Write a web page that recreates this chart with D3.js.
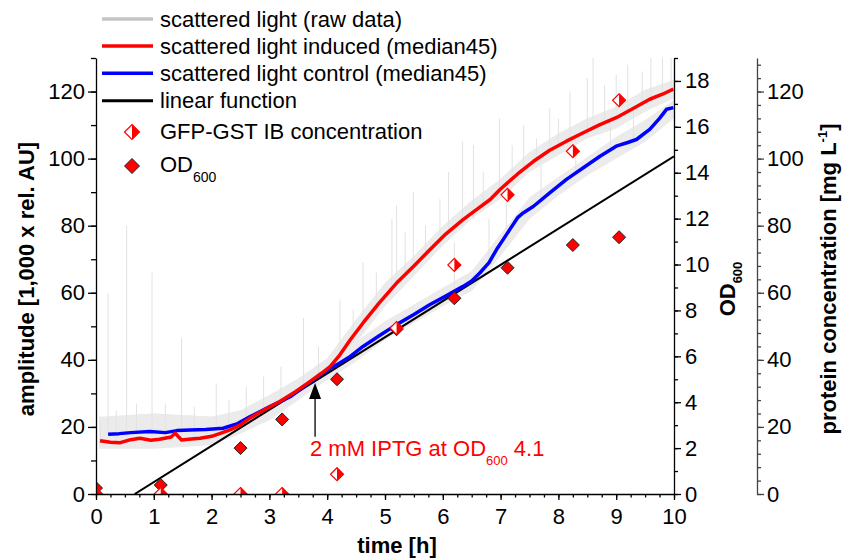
<!DOCTYPE html>
<html>
<head>
<meta charset="utf-8">
<script src="https://cdn.jsdelivr.net/npm/d3@7"></script>
<style>
  body { margin: 0; background: #fff; }
  text { font-family: Arial, "Liberation Sans", sans-serif; }
</style>
</head>
<body>
<div id="chart"></div>
<script>
// values: [time h, amplitude]
const redMedian = [[0.07,15.9],[0.25,15.4],[0.42,15.3],[0.6,16.2],[0.76,16.6],[0.95,16.0],[1.1,16.3],[1.3,17.0],[1.37,18.1],[1.48,16.1],[1.65,16.4],[1.8,16.6],[2.0,17.2],[2.15,18.1],[2.32,19.1],[2.5,20.6],[2.66,22.6],[2.9,25.0],[3.18,27.6],[3.45,30.5],[3.7,33.5],[3.9,36],[4.05,38],[4.22,41.5],[4.4,46],[4.62,51],[4.9,57],[5.2,62.9],[5.5,68],[5.78,72.9],[6.05,77.5],[6.35,81.8],[6.6,85],[6.82,87.8],[6.99,90.8],[7.3,95.5],[7.57,99.2],[7.85,102.5],[8.14,105.2],[8.43,107.7],[8.7,110],[9.0,112.2],[9.3,115],[9.58,117.7],[9.8,119.2],[9.99,120.7]];
const blueMedian = [[0.21,17.8],[0.4,18.0],[0.6,18.3],[0.93,18.6],[1.2,18.3],[1.4,18.9],[1.63,19.1],[1.9,19.2],[2.2,19.6],[2.45,21],[2.66,23],[3.0,26],[3.36,29],[3.7,33.3],[4.05,37.5],[4.16,38.5],[4.4,41],[4.62,44],[4.9,47.2],[5.2,50.5],[5.5,53.5],[5.78,56.5],[6.05,59],[6.35,61.9],[6.5,63.5],[6.64,65.9],[6.8,69],[6.93,72.9],[7.05,76],[7.16,78.9],[7.3,82.5],[7.39,83.8],[7.57,85.8],[7.85,89.8],[8.14,93.8],[8.45,97.5],[8.72,100.7],[9.0,103.7],[9.2,104.8],[9.35,105.7],[9.58,108.7],[9.75,112],[9.87,114.7],[9.99,115.2]];
// raw data envelope [t, low, high] and single spikes [t, base, peak]
const rawBandRed = [[0.05,13.5,23],[1,13.5,24],[2,14.5,23],[2.5,18,25],[3,22,29.5],[3.5,28,34.5],[4,34.5,40.5],[4.5,45,52],[5,56,63],[5.5,65,71],[6,74,80],[6.5,82,87.5],[7,88,94],[7.5,96,102],[8,101,107.5],[8.5,106,112],[9,109,115.5],[9.5,114,120.5],[10,118,123.5]];
const rawBandBlue = [[0.2,15,23],[1,15,24],[2,16,23],[2.5,18.5,24.5],[3,23,29],[3.5,28,33.5],[4,34,39.5],[4.5,39.5,45.5],[5,46,51.5],[5.5,51,56.5],[6,56,61.5],[6.5,60.5,66.5],[7,71,77.5],[7.5,82,88.5],[8,89,94.5],[8.5,95,100.5],[9,100,106.5],[9.5,105,111.5],[10,112,117.5]];
const rawSpikes = [[0.08,16,22],[0.21,18,60],[0.35,16,25],[0.53,17,80],[0.7,16,27],[0.97,17,66],[1.2,17,27],[1.48,18,46.5],[1.7,17,26],[2.08,18,33],[2.3,19,28],[2.6,22,32],[2.9,25,35],[3.2,28,38],[3.59,32,52.5],[3.85,35,44],[4.22,40,58],[4.45,45,55],[4.62,48,69],[4.85,55,66],[5.12,60,82],[5.2,62,86],[5.35,64,78],[5.49,66,90],[5.7,70,80],[5.95,74,88],[6.1,76,96],[6.2,60,75],[6.34,80,105],[6.53,82,104],[6.7,85,96],[6.8,68,82],[6.98,90,112],[7.1,77,90],[7.2,93,104],[7.4,97,110],[7.62,100,106],[7.7,87,98],[7.85,102,115],[8.0,103,112],[8.2,105,120],[8.3,95,104],[8.5,107,124],[8.6,108,130],[8.8,110,122],[8.9,102,110],[9.0,112,125],[9.2,114,128],[9.3,105,114],[9.45,116,126],[9.6,117,130],[9.8,119,130],[9.95,120,130]];
const linearFit = [[0.67,0],[10,100.7]];
// sample times, OD600 and GFP-GST IB concentration [mg/L]
const sampleTime = [0, 1.12, 2.5, 3.22, 4.17, 5.2, 6.2, 7.12, 8.25, 9.05];
const od600 = [0.26, 0.39, 2.0, 3.25, 5.0, 7.18, 8.53, 9.86, 10.85, 11.19];
const gfpConc = [0, 0, 0, 0, 5.9, 49.5, 68.3, 89.2, 102.2, 117.4];
const xTicks = d3.range(0, 11, 1);
const ampTicks = d3.range(0, 121, 20);
const odTicks = d3.range(0, 19, 2);
const protTicks = d3.range(0, 121, 20);
const iptgTime = 3.79;

const W = 850, H = 558;
const svg = d3.select("#chart").append("svg")
    .attr("width", W).attr("height", H);

const x = d3.scaleLinear().domain([0, 10]).range([96, 674]);
const y = d3.scaleLinear().domain([0, 130]).range([494, 58]);
const yOD = d3.scaleLinear().domain([0, 19]).range([494, 58]);
const yP = d3.scaleLinear().domain([0, 130]).range([494, 58]);

svg.append("clipPath").attr("id", "plot")
  .append("rect").attr("x", 96).attr("y", 58).attr("width", 578).attr("height", 436);

const plot = svg.append("g").attr("clip-path", "url(#plot)");

// raw scattered light
const band = d3.area().x(d => x(d[0])).y0(d => y(d[1])).y1(d => y(d[2]));
[rawBandRed, rawBandBlue].forEach(b => {
  plot.append("path").attr("d", band(b)).attr("fill", "#ebebeb");
});
plot.selectAll("line.spike").data(rawSpikes).enter().append("line")
    .attr("class", "spike")
    .attr("x1", d => x(d[0])).attr("x2", d => x(d[0]))
    .attr("y1", d => y(d[1])).attr("y2", d => y(d[2]))
    .attr("stroke", "#e2e2e2").attr("stroke-width", 1);

const line = d3.line().x(d => x(d[0])).y(d => y(d[1]));
plot.append("path").attr("d", line(linearFit))
    .attr("fill", "none").attr("stroke", "#000").attr("stroke-width", 2);
plot.append("path").attr("d", line(blueMedian))
    .attr("fill", "none").attr("stroke", "#0000ff").attr("stroke-width", 3.5).attr("stroke-linejoin", "round");
plot.append("path").attr("d", line(redMedian))
    .attr("fill", "none").attr("stroke", "#ff0000").attr("stroke-width", 3.5).attr("stroke-linejoin", "round");

// markers
function diamond(cx, cy, r) {
  return `M${cx},${cy - r}L${cx + r},${cy}L${cx},${cy + r}L${cx - r},${cy}Z`;
}
function halfDiamond(cx, cy, r) {
  return `M${cx},${cy - r}L${cx + r},${cy}L${cx},${cy + r}Z`;
}
function drawOD(g, cx, cy, r) {
  g.append("path").attr("d", diamond(cx, cy, r))
    .attr("fill", "#ff0000").attr("stroke", "#222").attr("stroke-width", 1);
}
function drawGFP(g, cx, cy, r) {
  g.append("path").attr("d", diamond(cx, cy, r))
    .attr("fill", "#fff").attr("stroke", "#ff0000").attr("stroke-width", 1.2);
  g.append("path").attr("d", halfDiamond(cx, cy, r)).attr("fill", "#ff0000");
}
sampleTime.forEach((t, i) => drawOD(plot, x(t), yOD(od600[i]), 6.5));
sampleTime.forEach((t, i) => drawGFP(plot, x(t), yP(gfpConc[i]), 6.5));

// axes
function minor(axis, scale, values, size) {
  return axis(scale).tickValues(values).tickSize(size).tickFormat("");
}
const fontSize = "22px";

const gx = svg.append("g").attr("transform", "translate(0,494)");
gx.call(minor(d3.axisBottom, x, d3.range(0, 10.01, 0.25), 3.5)).select(".domain").remove();
gx.append("g").call(d3.axisBottom(x).tickValues(xTicks).tickSize(6).tickSizeOuter(0).tickPadding(8))
  .selectAll("text").attr("font-size", fontSize).attr("fill", "#000").style("font-family", "Arial, 'Liberation Sans', sans-serif");

const gy = svg.append("g").attr("transform", "translate(96,0)");
gy.call(minor(d3.axisLeft, y, d3.range(0, 131, 10), 5)).select(".domain").remove();
gy.append("g").call(d3.axisLeft(y).tickValues(ampTicks).tickSize(8).tickSizeOuter(0).tickPadding(3))
  .selectAll("text").attr("font-size", fontSize).attr("fill", "#000").style("font-family", "Arial, 'Liberation Sans', sans-serif");

const god = svg.append("g").attr("transform", "translate(674,0)");
god.call(minor(d3.axisRight, yOD, d3.range(0, 19.01, 1), 4)).select(".domain").remove();
god.append("g").call(d3.axisRight(yOD).tickValues(odTicks).tickSize(7).tickSizeOuter(0).tickPadding(4))
  .selectAll("text").attr("font-size", fontSize).attr("fill", "#000").style("font-family", "Arial, 'Liberation Sans', sans-serif");

const gp = svg.append("g").attr("transform", "translate(757,0)");
gp.call(minor(d3.axisRight, yP, d3.range(0, 130, 4), 4)).select(".domain").remove();
gp.append("g").call(d3.axisRight(yP).tickValues(protTicks).tickSize(7).tickSizeOuter(0).tickPadding(3))
  .selectAll("text").attr("font-size", fontSize).attr("fill", "#000").style("font-family", "Arial, 'Liberation Sans', sans-serif");
gp.selectAll("line, path").attr("stroke", "#444");

svg.selectAll(".domain, .tick line").attr("stroke-width", 1.3);

// axis titles
svg.append("text").attr("x", 397).attr("y", 553).attr("text-anchor", "middle")
  .attr("font-size", fontSize).attr("font-weight", "bold").text("time [h]");
svg.append("text").attr("transform", "translate(34,279) rotate(-90)").attr("text-anchor", "middle")
  .attr("font-size", fontSize).attr("font-weight", "bold").text("amplitude [1,000 x rel. AU]");
const odTitle = svg.append("text").attr("transform", "translate(735,289) rotate(-90)").attr("text-anchor", "middle")
  .attr("font-size", fontSize).attr("font-weight", "bold");
odTitle.append("tspan").text("OD");
odTitle.append("tspan").attr("font-size", "13px").attr("dy", 7).text("600");
const pTitle = svg.append("text").attr("transform", "translate(836,279) rotate(-90)").attr("text-anchor", "middle")
  .attr("font-size", fontSize).attr("font-weight", "bold");
pTitle.append("tspan").text("protein concentration [mg L");
pTitle.append("tspan").attr("font-size", "13px").attr("dy", -9).text("-1");
pTitle.append("tspan").attr("dy", 9).text("]");

// IPTG arrow and label
const ax = x(iptgTime);
svg.append("line").attr("x1", ax).attr("x2", ax).attr("y1", y(17.1)).attr("y2", y(33.1) + 14)
  .attr("stroke", "#000").attr("stroke-width", 1.3);
svg.append("path").attr("d", `M${ax},${y(33.1)}L${ax + 6},${y(33.1) + 16}L${ax - 6},${y(33.1) + 16}Z`).attr("fill", "#000");
const note = svg.append("text").attr("x", 310).attr("y", 456).attr("font-size", fontSize).attr("fill", "#ff0000");
note.append("tspan").text("2 mM IPTG at OD");
note.append("tspan").attr("font-size", "13px").attr("dy", 9).text("600");
note.append("tspan").attr("dy", -9).text(" 4.1");

// legend
const legendLines = [
  {label: "scattered light (raw data)", color: "#c4c4c4", y: 19},
  {label: "scattered light induced (median45)", color: "#ff0000", y: 46},
  {label: "scattered light control (median45)", color: "#0000ff", y: 73.3},
  {label: "linear function", color: "#000", y: 100.7}
];
const lg = svg.append("g");
legendLines.forEach(d => {
  lg.append("line").attr("x1", 102).attr("x2", 153).attr("y1", d.y).attr("y2", d.y)
    .attr("stroke", d.color).attr("stroke-width", d.color === "#000" ? 3 : 3.5);
  lg.append("text").attr("x", 160).attr("y", d.y + 7.7).attr("font-size", fontSize).text(d.label);
});
drawGFP(lg, 132, 132, 7.5);
lg.append("text").attr("x", 160).attr("y", 139).attr("font-size", fontSize).text("GFP-GST IB concentration");
drawOD(lg, 132, 166, 7.5);
const odLeg = lg.append("text").attr("x", 160).attr("y", 172).attr("font-size", fontSize);
odLeg.append("tspan").text("OD");
odLeg.append("tspan").attr("font-size", "14px").attr("dy", 10).text("600");
</script>
</body>
</html>
